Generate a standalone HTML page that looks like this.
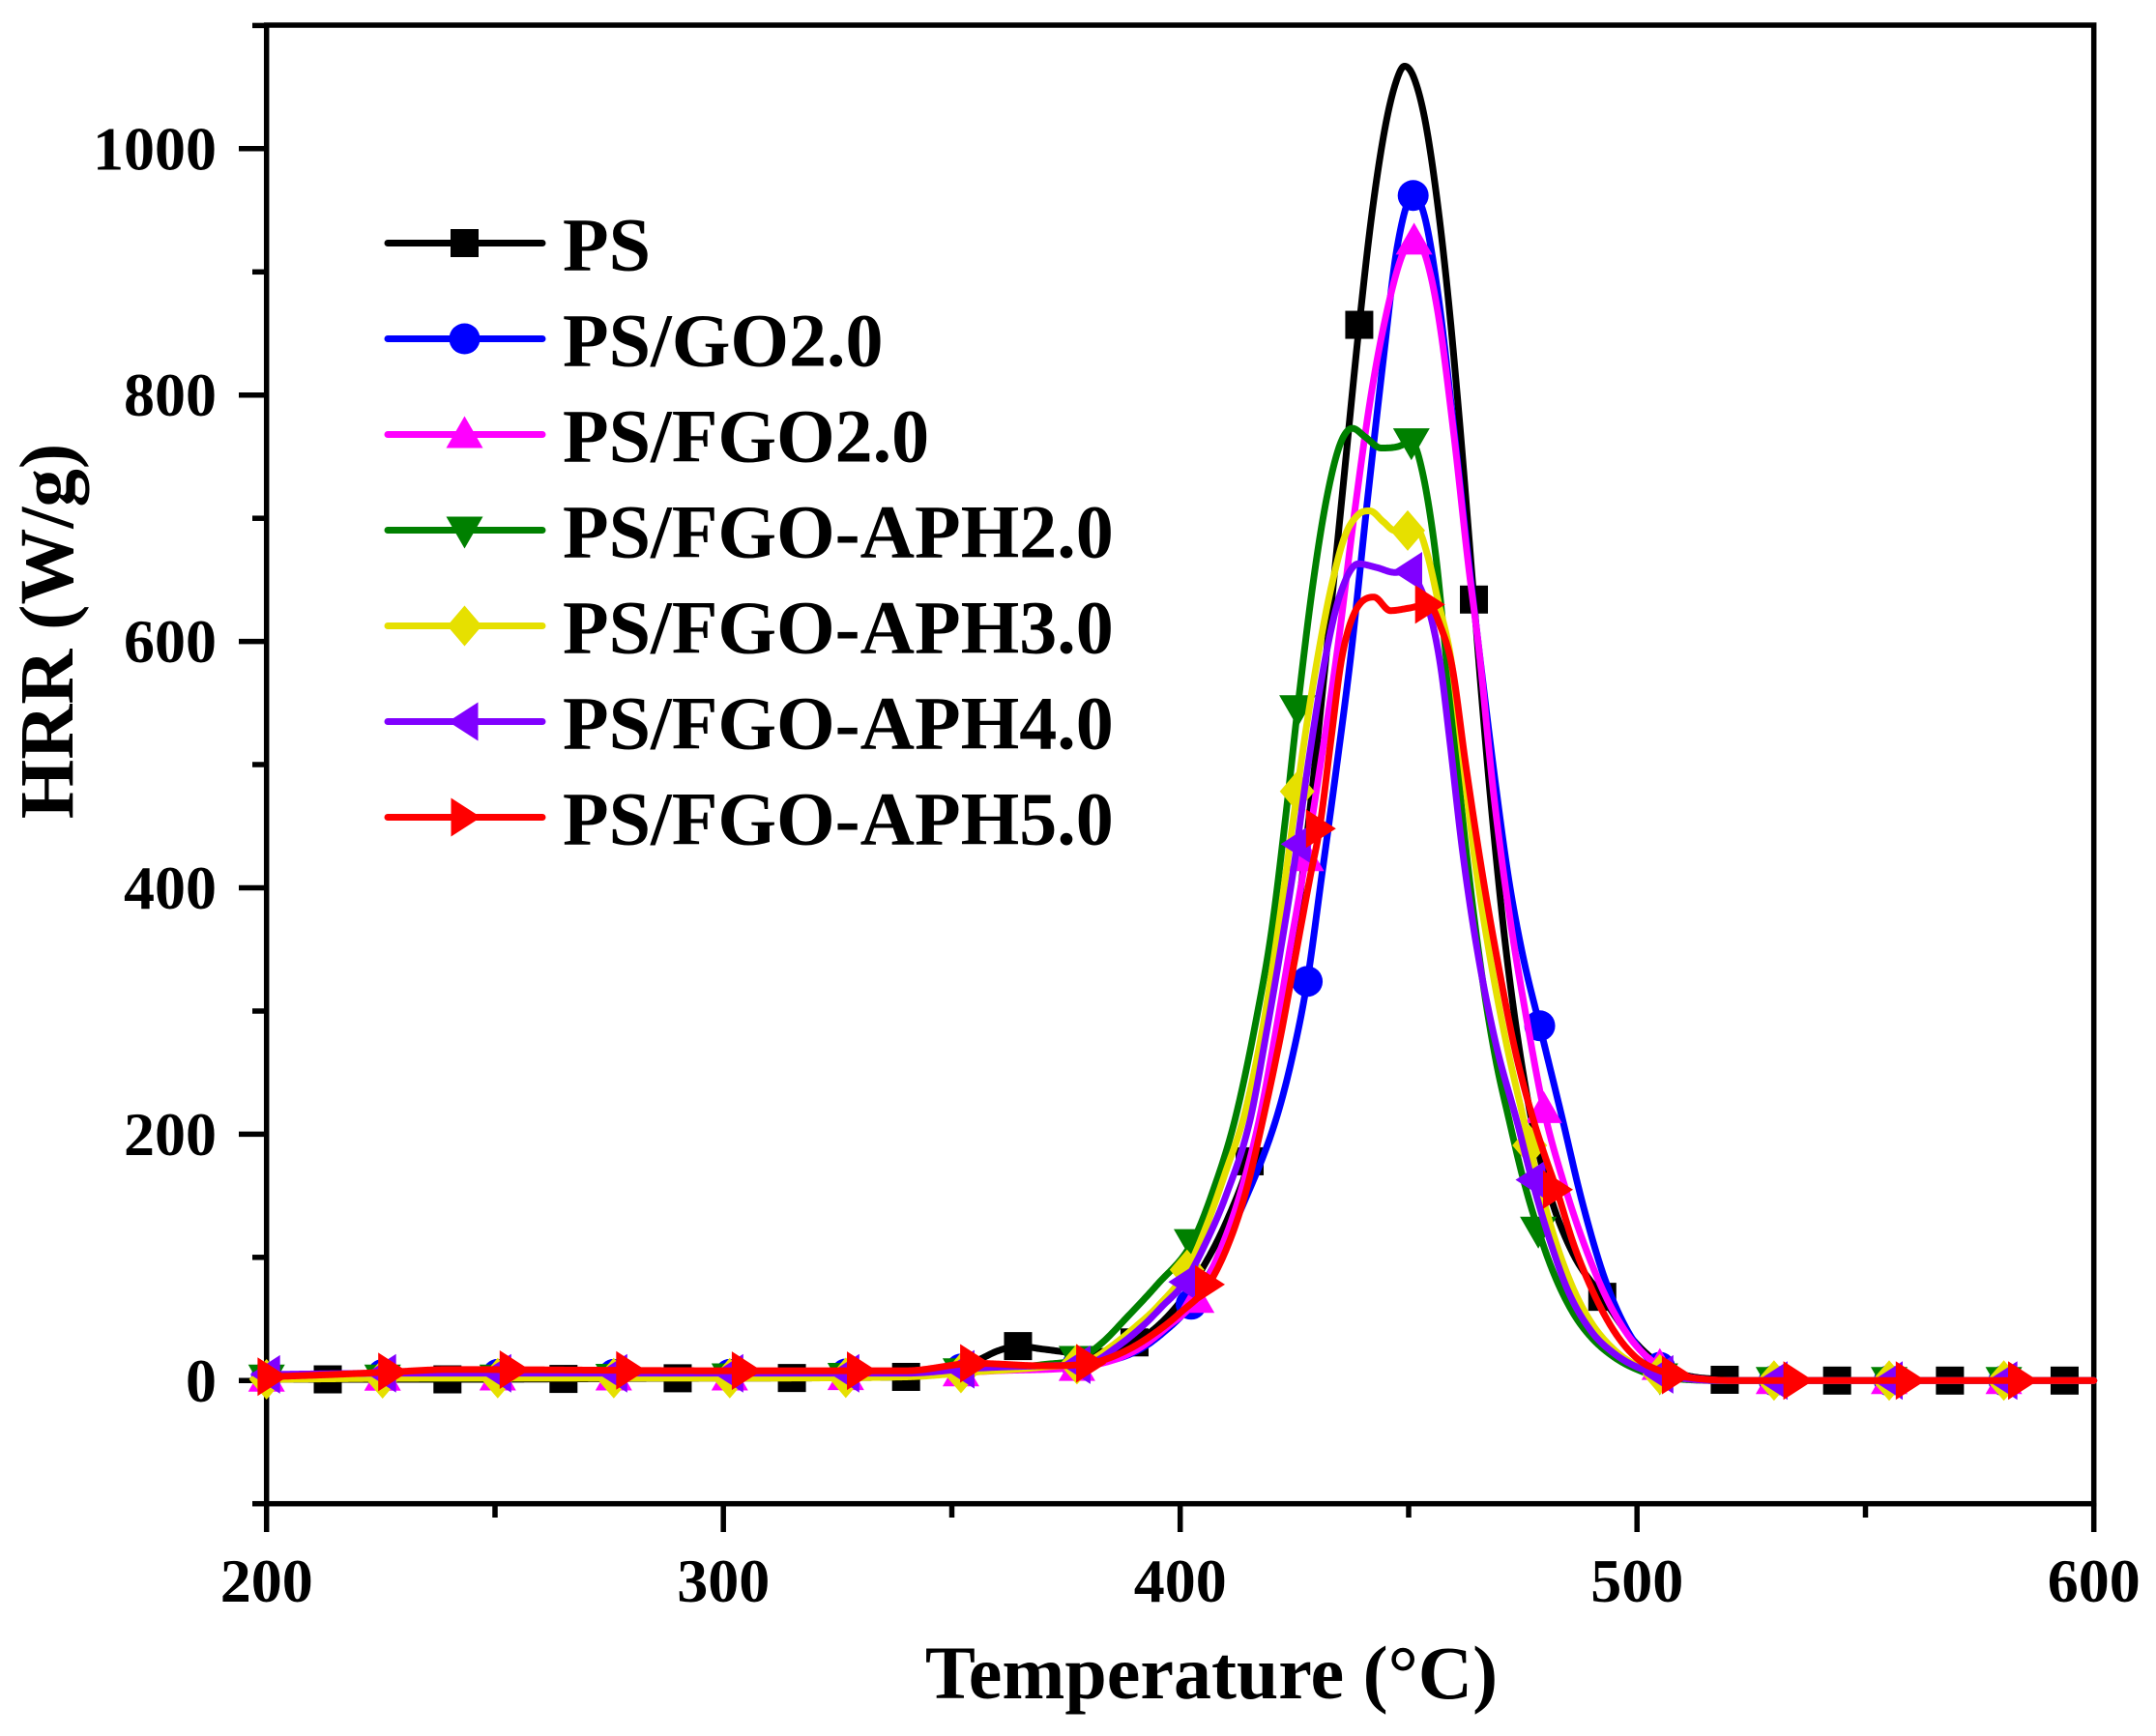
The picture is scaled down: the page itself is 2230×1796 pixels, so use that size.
<!DOCTYPE html>
<html>
<head>
<meta charset="utf-8">
<style>
html,body{margin:0;padding:0;background:#fff;}
svg{display:block;}
text{font-family:"Liberation Serif","Times New Roman",serif;font-weight:bold;fill:#000;}
</style>
</head>
<body>
<svg id="chart" width="2230" height="1796" viewBox="0 0 2230 1796" xmlns="http://www.w3.org/2000/svg">
<rect x="0" y="0" width="2230" height="1796" fill="#fff"/>
<!-- frame -->
<rect x="275.7" y="26" width="1890" height="1529.7" fill="none" stroke="#000" stroke-width="5.5"/>
<g stroke="#000" stroke-width="5.5">
  <!-- y major ticks -->
  <line x1="247" y1="1428.3" x2="276" y2="1428.3"/>
  <line x1="247" y1="1173.4" x2="276" y2="1173.4"/>
  <line x1="247" y1="918.5" x2="276" y2="918.5"/>
  <line x1="247" y1="663.6" x2="276" y2="663.6"/>
  <line x1="247" y1="408.7" x2="276" y2="408.7"/>
  <line x1="247" y1="153.8" x2="276" y2="153.8"/>
  <!-- y minor ticks -->
  <line x1="261" y1="1555.7" x2="276" y2="1555.7"/>
  <line x1="261" y1="1300.8" x2="276" y2="1300.8"/>
  <line x1="261" y1="1046" x2="276" y2="1046"/>
  <line x1="261" y1="791" x2="276" y2="791"/>
  <line x1="261" y1="536.2" x2="276" y2="536.2"/>
  <line x1="261" y1="281.3" x2="276" y2="281.3"/>
  <line x1="261" y1="26.4" x2="276" y2="26.4"/>
  <!-- x major ticks -->
  <line x1="275.7" y1="1555" x2="275.7" y2="1585"/>
  <line x1="748.2" y1="1555" x2="748.2" y2="1585"/>
  <line x1="1220.7" y1="1555" x2="1220.7" y2="1585"/>
  <line x1="1693.2" y1="1555" x2="1693.2" y2="1585"/>
  <line x1="2165.7" y1="1555" x2="2165.7" y2="1585"/>
  <!-- x minor ticks -->
  <line x1="512" y1="1555" x2="512" y2="1570"/>
  <line x1="984.5" y1="1555" x2="984.5" y2="1570"/>
  <line x1="1457" y1="1555" x2="1457" y2="1570"/>
  <line x1="1929.5" y1="1555" x2="1929.5" y2="1570"/>
</g>
<!-- tick labels -->
<g font-size="64" text-anchor="end">
  <text x="224" y="1449.8">0</text>
  <text x="224" y="1194.9">200</text>
  <text x="224" y="940">400</text>
  <text x="224" y="685.1">600</text>
  <text x="224" y="430.2">800</text>
  <text x="224" y="175.3">1000</text>
</g>
<g font-size="64" text-anchor="middle">
  <text x="275.7" y="1657">200</text>
  <text x="748.2" y="1657">300</text>
  <text x="1220.7" y="1657">400</text>
  <text x="1693.2" y="1657">500</text>
  <text x="2165.7" y="1657">600</text>
</g>
<!-- axis titles -->
<text x="1253" y="1757" font-size="78" text-anchor="middle">Temperature (°C)</text>
<text transform="translate(75,653) rotate(-90)" font-size="79" text-anchor="middle">HRR (W/g)</text>

<g id="data"></g>

<!-- legend -->
<g stroke-width="7" stroke-linecap="round">
  <line x1="401" y1="251.5" x2="561" y2="251.5" stroke="#000000"/>
  <line x1="401" y1="350.5" x2="561" y2="350.5" stroke="#0000ff"/>
  <line x1="401" y1="449.5" x2="561" y2="449.5" stroke="#ff00ff"/>
  <line x1="401" y1="548.5" x2="561" y2="548.5" stroke="#008000"/>
  <line x1="401" y1="647.5" x2="561" y2="647.5" stroke="#e6e000"/>
  <line x1="401" y1="746.5" x2="561" y2="746.5" stroke="#8000ff"/>
  <line x1="401" y1="845.5" x2="561" y2="845.5" stroke="#ff0000"/>
</g>
<rect x="466" y="237" width="29" height="29" fill="#000"/>
<circle cx="480.5" cy="350.5" r="16" fill="#0000ff"/>
<polygon points="480.5,430.5 461.5,463.5 499.5,463.5" fill="#ff00ff"/>
<polygon points="461.5,534.5 499.5,534.5 480.5,567.5" fill="#008000"/>
<polygon points="480.5,626.5 498.5,647.5 480.5,668.5 462.5,647.5" fill="#e6e000"/>
<polygon points="463.5,746.5 494.5,726.5 494.5,766.5" fill="#8000ff"/>
<polygon points="497.5,845.5 466.5,825.5 466.5,865.5" fill="#ff0000"/>
<g font-size="78">
  <text x="582" y="279.5">PS</text>
  <text x="582" y="378.5">PS/GO2.0</text>
  <text x="582" y="477.5">PS/FGO2.0</text>
  <text x="582" y="576.5">PS/FGO-APH2.0</text>
  <text x="582" y="675.5">PS/FGO-APH3.0</text>
  <text x="582" y="774.5">PS/FGO-APH4.0</text>
  <text x="582" y="873.5">PS/FGO-APH5.0</text>
</g>
</svg>
<script>
(function(){
var NS="http://www.w3.org/2000/svg";
function X(t){return 275.7+(t-200)*4.725;}
function Y(h){return 1428.3-h*1.2745;}
function interp(pts){
  var n=pts.length,xs=[],ys=[],d=[],m=[],i;
  for(i=0;i<n;i++){xs.push(pts[i][0]);ys.push(pts[i][1]);}
  for(i=0;i<n-1;i++){d.push((ys[i+1]-ys[i])/(xs[i+1]-xs[i]));}
  m[0]=d[0];m[n-1]=d[n-2];
  for(i=1;i<n-1;i++){m[i]=(d[i-1]*d[i]<=0)?0:(d[i-1]+d[i])/2;}
  for(i=0;i<n-1;i++){
    if(d[i]===0){m[i]=0;m[i+1]=0;continue;}
    var a=m[i]/d[i],b=m[i+1]/d[i],s=a*a+b*b;
    if(s>9){var t=3/Math.sqrt(s);m[i]=t*a*d[i];m[i+1]=t*b*d[i];}
  }
  return function(x){
    if(x<=xs[0])return ys[0];
    if(x>=xs[n-1])return ys[n-1];
    var k=0;while(k<n-2&&x>xs[k+1])k++;
    var h=xs[k+1]-xs[k],t=(x-xs[k])/h,t2=t*t,t3=t2*t;
    return (2*t3-3*t2+1)*ys[k]+(t3-2*t2+t)*h*m[k]+(-2*t3+3*t2)*ys[k+1]+(t3-t2)*h*m[k+1];
  };
}
var colored=[200,225.4,250.6,276,301.4,326.8,352,377.4];
var tail=[505,530,555.2,580.3];
var series=[
 {c:"#000000",s:"sq",pts:[[200,1],[240,1],[300,2],[340,3],[350,8],[356,17],[360,24],[364.5,28],[370,25.5],[378,22.5],[385,25],[390,31],[395,44],[400,64],[405,92],[410,128],[415.2,178],[420,245],[424,330],[428,450],[432,590],[435.5,720],[439.2,857],[442,948],[445,1020],[447.5,1057],[449.1,1067],[451,1059],[453.5,1025],[456,965],[458.5,885],[461,785],[464.3,634],[466,555],[468,470],[471,360],[474,275],[477,210],[481,150],[486,103],[492.4,68],[498,38],[504,16],[510,5],[518,1],[525,0],[600,0]],
  mk:[213.4,239.6,265,290,315,340,364.5,390,415.2,439.2,464.3,492.4,519.2,543.8,568.5,593.6]},
 {c:"#0000ff",s:"ci",pts:[[200,3],[230,5],[300,5],[340,6],[355,10],[370,11],[380,13],[390,23],[396,38],[402.4,62],[408,98],[414,145],[420.8,210],[424.5,262],[427.8,324],[431,410],[434.3,500],[437.4,590],[441,715],[444.5,830],[447.5,920],[451,962],[453.5,945],[456.5,880],[460,770],[463,670],[466,575],[469,485],[472,405],[475,345],[478.7,288],[483.5,215],[488,145],[493,82],[498,40],[503,16],[508,6],[514,1],[522,0],[600,0]],
  mk:colored.concat([402.4,427.8,451,478.7]).concat(tail)},
 {c:"#ff00ff",s:"up",pts:[[200,2],[240,3],[300,3],[340,4],[360,8],[380,12],[390,24],[397,43],[403.5,66],[409,108],[413,150],[417.2,210],[421,285],[424,350],[427.3,420],[430.5,495],[434.3,590],[438,700],[442,805],[446,880],[449,917],[451.2,925],[453.5,915],[456.5,865],[460,765],[463,665],[465.5,590],[468.5,480],[472,380],[476,290],[479.6,220],[484,160],[489,105],[494,62],[499,32],[504,14],[509,5],[515,1],[522,0],[600,0]],
  mk:colored.concat([403.5,427.5,451.2,479.6]).concat(tail)},
 {c:"#008000",s:"dn",pts:[[200,2],[240,2],[300,3],[340,4],[355,8],[370,13],[378,18],[383,31],[388,50],[395,78],[402.6,112],[407,152],[412,212],[417,300],[420,365],[423,455],[426,555],[429,645],[432,715],[435,760],[437.7,773],[440.5,766],[444,757],[447.5,758],[450.6,762],[453,738],[456,668],[458,595],[460.5,505],[462.6,430],[466,330],[469,262],[472.1,210],[475,165],[478.4,122],[482,85],[486,55],[490,35],[495,19],[500,9],[505,3],[510,1],[518,0],[600,0]],
  mk:colored.concat([402.6,425.7,450.6,478.4]).concat(tail)},
 {c:"#e6e000",s:"di",pts:[[200,1],[240,2],[300,2],[340,3],[355,7],[370,11],[380,16],[385,28],[390,43],[395,60],[401.5,90],[406,128],[410,170],[414,215],[418,285],[421,355],[424,435],[427,515],[430,585],[433,643],[436,685],[439,703],[441.5,706],[444.5,697],[447,690],[449.8,690],[452,690],[454,672],[456.5,632],[459.3,585],[462,500],[464.6,420],[468,340],[471.5,272],[475,215],[478,168],[482,115],[486,75],[490,47],[495,25],[500,12],[505,5],[512,1],[520,0],[600,0]],
  mk:colored.concat([401.5,425.6,449.8,476.5]).concat(tail)},
 {c:"#8000ff",s:"lt",pts:[[200,5],[230,6],[300,6],[340,6],[355,10],[370,12],[380,14],[386,27],[392,45],[396,60],[401,80],[406,115],[410,150],[415.2,210],[419,285],[422,350],[425,420],[428,500],[431.8,587],[435,638],[439,663],[443,660],[447,656],[450,657],[453,640],[455,618],[457,580],[459,520],[461.8,430],[465,350],[469,275],[473.9,208],[477,163],[481,113],[485,72],[490,40],[495,22],[500,11],[505,5],[512,1],[520,0],[600,0]],
  mk:colored.concat([401,425.6,450,477]).concat(tail)},
 {c:"#ff0000",s:"rt",pts:[[200,3],[215,5],[227.4,7],[240,9],[300,8],[340,8],[355,14],[370,12],[380.2,14],[388,24],[395,40],[400,55],[406.2,78],[411,115],[414.5,155],[418,210],[422,280],[425,340],[428.5,410],[430.5,448],[433,520],[435.3,585],[438,622],[442.4,636],[446,625],[450,627],[454.4,630],[457,612],[459.5,580],[462.5,500],[466.2,410],[470,330],[473.5,265],[476.8,218],[479.5,186],[482.4,155],[486,112],[490,75],[495,40],[500,18],[505,8],[509,4],[515,1],[522,0],[600,0]],
  mk:[201,227.4,254,279.5,304.8,330,354.8,380.2,406.2,430.5,454.4,482.4,508.4,535,559.6,584.2]}
];
var g=document.getElementById("data");
function el(name,attrs){var e=document.createElementNS(NS,name);for(var k in attrs)e.setAttribute(k,attrs[k]);g.appendChild(e);return e;}
function marker(shape,cx,cy,col){
  var p;
  switch(shape){
    case "sq": el("rect",{x:cx-14.5,y:cy-14.5,width:29,height:29,fill:col});return;
    case "ci": el("circle",{cx:cx,cy:cy,r:16,fill:col});return;
    case "up": p=[[cx,cy-19],[cx-19,cy+14],[cx+19,cy+14]];break;
    case "dn": p=[[cx-19,cy-14],[cx+19,cy-14],[cx,cy+19]];break;
    case "di": p=[[cx,cy-21],[cx+18,cy],[cx,cy+21],[cx-18,cy]];break;
    case "lt": p=[[cx-17,cy],[cx+14,cy-20],[cx+14,cy+20]];break;
    case "rt": p=[[cx+17,cy],[cx-14,cy-20],[cx-14,cy+20]];break;
  }
  el("polygon",{points:p.map(function(q){return q[0].toFixed(1)+","+q[1].toFixed(1);}).join(" "),fill:col});
}
series.forEach(function(s){
  var f=interp(s.pts),d="",t;
  for(t=200;t<=600.001;t+=0.25){
    d+=(t===200?"M":"L")+X(t).toFixed(2)+","+Y(f(t)).toFixed(2);
  }
  el("path",{d:d,fill:"none",stroke:s.c,"stroke-width":7,"stroke-linejoin":"round","stroke-linecap":"round"});
  s.mk.forEach(function(tm){marker(s.s,X(tm),Y(f(tm)),s.c);});
});
})();
</script>
</body>
</html>
